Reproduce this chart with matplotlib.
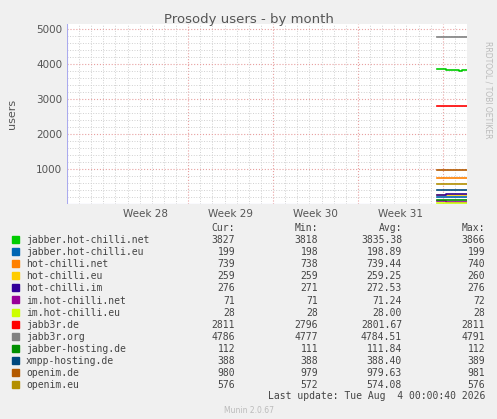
import numpy as np
import matplotlib.pyplot as plt

# time in days, x axis 0..33 (week 28 centred near 6.5)
names = ['jabber.hot-chilli.net', 'jabber.hot-chilli.eu', 'hot-chilli.net', 'hot-chilli.eu',
         'hot-chilli.im', 'im.hot-chilli.net', 'im.hot-chilli.eu', 'jabb3r.de', 'jabb3r.org',
         'jabber-hosting.de', 'xmpp-hosting.de', 'openim.de', 'openim.eu']
colors = ['#00CC00', '#0066B3', '#FF8000', '#FFCC00', '#330099', '#990099', '#CCFF00',
          '#FF0000', '#808080', '#008F00', '#00487D', '#B35A00', '#B38F00']
cur = ['3827', '199', '739', '259', '276', '71', '28', '2811', '4786', '112', '388', '980', '576']
mins = ['3818', '198', '738', '259', '271', '71', '28', '2796', '4777', '111', '388', '979', '572']
avgs = ['3835.38', '198.89', '739.44', '259.25', '272.53', '71.24', '28.00', '2801.67',
        '4784.51', '111.84', '388.40', '979.63', '574.08']
maxs = ['3866', '199', '740', '260', '276', '72', '28', '2811', '4791', '112', '389', '981', '576']

t = [30.5, 31.3, 31.6, 32.0, 32.3, 32.6, 33.0]
series = [
    [3866, 3840, 3835, 3830, 3818, 3830, 3827],
    [199, 199, 198, 199, 199, 199, 199],
    [740, 739, 739, 739, 738, 739, 739],
    [260, 259, 259, 259, 259, 259, 259],
    [271, 272, 272, 273, 273, 274, 276],
    [72, 71, 71, 71, 71, 71, 71],
    [28, 28, 28, 28, 28, 28, 28],
    [2811, 2796, 2796, 2811, 2811, 2811, 2811],
    [4791, 4777, 4782, 4784, 4784, 4784, 4786],
    [112, 112, 111, 112, 112, 112, 112],
    [389, 388, 388, 388, 388, 388, 388],
    [981, 979, 979, 981, 979, 979, 980],
    [576, 572, 574, 574, 574, 574, 576],
]

fig = plt.figure(figsize=(4.97, 4.19), dpi=100, facecolor='#F0F0F0')
ax = fig.add_axes([67/497, 1-204/419, 400/497, 180/419], facecolor='white')

for vals, c in zip(series, colors):
    ax.step(t, vals, where='post', color=c, lw=1.2)

ax.set_xlim(0, 33)
ax.set_ylim(0, 5150)
ax.set_yticks([1000, 2000, 3000, 4000, 5000])
ax.set_yticks(np.arange(0, 5150, 200), minor=True)
ax.set_xticks([10, 17, 24, 31])
ax.set_xticks(np.arange(0, 33, 1), minor=True)
ax.grid(which='minor', color='#D0D0D0', ls=':', lw=0.7)
ax.grid(which='major', color='#E8A0A0', ls=':', lw=0.8)
ax.set_xticklabels([])
for w, x in zip(['Week 28', 'Week 29', 'Week 30', 'Week 31'], [6.5, 13.5, 20.5, 27.5]):
    ax.text(x, -150, w, ha='center', va='top', fontsize=7.5, color='#555555')
ax.tick_params(which='both', length=0, labelsize=7.5, colors='#555555')
for s in ax.spines.values():
    s.set_visible(False)
ax.axhline(0, color='#AAAAEE', lw=0.8)
ax.axvline(0, color='#AAAAEE', lw=0.8)
ax.set_ylabel('users', fontsize=8, color='#555555', labelpad=14)

fig.text(0.5, 1-19/419, 'Prosody users - by month', ha='center', va='center', fontsize=9.5, color='#555555')
fig.text(488/497, 1-90/419, 'RRDTOOL / TOBI OETIKER', rotation=270, ha='center', va='center',
         fontsize=5.5, color='#BBBBBB')

mono = dict(family='DejaVu Sans Mono', fontsize=7, color='#444444')
fy = lambda y: 1 - y / 419
for x, h in zip([235, 318, 402, 485], ['Cur:', 'Min:', 'Avg:', 'Max:']):
    fig.text(x/497, fy(228), h, ha='right', va='center', **mono)
for i, n in enumerate(names):
    y = 240 + i * 12.1
    fig.patches.append(plt.Rectangle((12/497, fy(y) - 3/419), 7/497, 7/419,
                                     transform=fig.transFigure, color=colors[i]))
    fig.text(26/497, fy(y), n, ha='left', va='center', **mono)
    for x, v in zip([235, 318, 402, 485], [cur[i], mins[i], avgs[i], maxs[i]]):
        fig.text(x/497, fy(y), v, ha='right', va='center', **mono)
fig.text(485/497, fy(396), 'Last update: Tue Aug  4 00:00:40 2026', ha='right', va='center', **mono)
fig.text(0.5, fy(410), 'Munin 2.0.67', ha='center', va='center', fontsize=5.5, color='#BBBBBB')

fig.savefig('out.png', dpi=100, facecolor=fig.get_facecolor())
